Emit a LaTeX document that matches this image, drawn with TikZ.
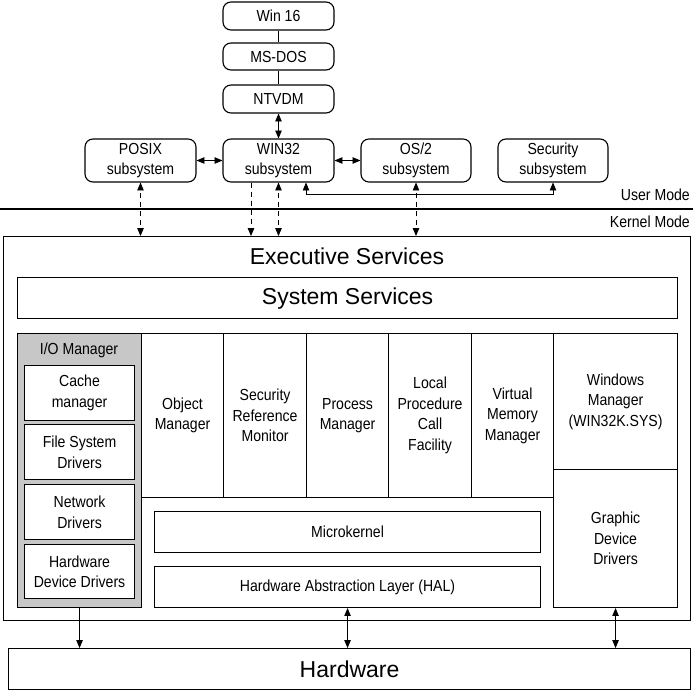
\documentclass[tikz,border=0pt]{standalone}
\usepackage{fontspec}
\setmainfont{Liberation Sans}
\newfontfamily\narrowfont[FakeStretch=0.88]{Liberation Sans}
\usetikzlibrary{arrows}

\begin{document}
\begin{tikzpicture}[x=1pt,y=-1pt]
\tikzstyle{piccolo} = [font=\narrowfont\fontsize{16}{20.5}\selectfont]
\tikzstyle{grande} = [font=\fontsize{23}{28}\selectfont]
\tikzstyle{tondo} = [draw, piccolo, rounded corners=8pt, line width=1.1pt, minimum width=111pt, align=center, inner sep=0pt]
\tikzstyle{blocco} = [draw, piccolo, line width=1.1pt, align=center, anchor=north west, inner sep=0pt]
\tikzstyle{doppia} = [line width=0.8pt, triangle 45-triangle 45]
\tikzstyle{freccia} = [line width=0.8pt, -triangle 45]
\tikzstyle{tratto} = [dash pattern=on 5pt off 4pt]
\useasboundingbox (0,0) rectangle (693,693);
% user mode
\node[tondo, minimum height=28pt] (win16) at (278.5,16) {Win 16};
\node[tondo, minimum height=27pt] (msdos) at (278.5,56.5) {MS-DOS};
\node[tondo, minimum height=28pt] (ntvdm) at (278.5,99) {NTVDM};
\node[tondo, minimum height=43pt] (posix) at (140.5,160.5) {POSIX\\subsystem};
\node[tondo, minimum height=43pt] (win32) at (278.5,160.5) {WIN32\\subsystem};
\node[tondo, minimum height=43pt, minimum width=110pt] (os2) at (416,160.5) {OS/2\\subsystem};
\node[tondo, minimum height=43pt, minimum width=110pt] (secur) at (553,160.5) {Security\\subsystem};
\draw[line width=0.8pt] (win16) -- (msdos);
\draw[line width=0.8pt] (msdos) -- (ntvdm);
\draw[doppia] (ntvdm) -- (win32);
\draw[doppia] (posix) -- (win32);
\draw[doppia] (win32) -- (os2);
\draw[doppia] ([xshift=27.5pt]win32.south) -- ++(0,12) -| (secur.south);
% mode line
\draw[line width=2pt] (0,209) -- (693,209);
\node[piccolo, anchor=east, inner sep=0pt] (umode) at (690,195) {User Mode};
\node[piccolo, anchor=east, inner sep=0pt] (kmode) at (690,222) {Kernel Mode};
% kernel mode
\node[draw, line width=1.1pt, anchor=north west, minimum width=687pt, minimum height=384pt] (exec) at (3,236) {};
\node[grande] (execlbl) at (347,256) {Executive Services};
\node[blocco, grande, minimum width=660pt, minimum height=41pt] (syss) at (17,277) {System Services};
\node[blocco, fill=black!22, minimum width=124pt, minimum height=274pt] (io) at (17,333) {};
\node[piccolo] (iolbl) at (79,350) {I/O Manager};
\node[blocco, fill=white, minimum width=110pt, minimum height=55pt] (cache) at (24,365) {Cache\\manager};
\node[blocco, fill=white, minimum width=110pt, minimum height=55pt] (fsd) at (24,424) {File System\\Drivers};
\node[blocco, fill=white, minimum width=110pt, minimum height=55pt] (netd) at (24,484) {Network\\Drivers};
\node[blocco, fill=white, minimum width=110pt, minimum height=54pt] (hwdd) at (24,544) {Hardware\\Device Drivers};
\node[blocco, minimum width=82pt, minimum height=164pt] (objm) at (141,333) {Object\\Manager};
\node[blocco, minimum width=83pt, minimum height=164pt] (srm) at (223,333) {Security\\Reference\\Monitor};
\node[blocco, minimum width=82pt, minimum height=164pt] (procm) at (306,333) {Process\\Manager};
\node[blocco, minimum width=83pt, minimum height=164pt] (lpc) at (388,333) {Local\\Procedure\\Call\\Facility};
\node[blocco, minimum width=82pt, minimum height=164pt] (vmm) at (471,333) {Virtual\\Memory\\Manager};
\node[blocco, minimum width=124pt, minimum height=136pt] (winm) at (553,333) {Windows\\Manager\\(WIN32K.SYS)};
\node[blocco, minimum width=124pt, minimum height=138pt] (gdd) at (553,469) {Graphic\\Device\\Drivers};
\node[blocco, minimum width=386pt, minimum height=41pt] (mk) at (154,511) {Microkernel};
\node[blocco, minimum width=386pt, minimum height=41pt] (hal) at (154,566) {Hardware Abstraction Layer (HAL)};
\node[blocco, grande, minimum width=682pt, minimum height=41pt] (hw) at (8,648) {Hardware};
% crossing
\draw[doppia, tratto] (posix.south) -- (posix.south |- exec.north);
\draw[freccia, tratto] ([xshift=-27.5pt]win32.south) -- ([xshift=-27.5pt]win32.south |- exec.north);
\draw[doppia, tratto] (win32.south) -- (win32.south |- exec.north);
\draw[doppia, tratto] (os2.south) -- (os2.south |- exec.north);
\draw[freccia] (io.south) -- (io.south |- hw.north);
\draw[doppia] (hal.south) -- (hal.south |- hw.north);
\draw[doppia] (gdd.south) -- (gdd.south |- hw.north);
\end{tikzpicture}
\end{document}
